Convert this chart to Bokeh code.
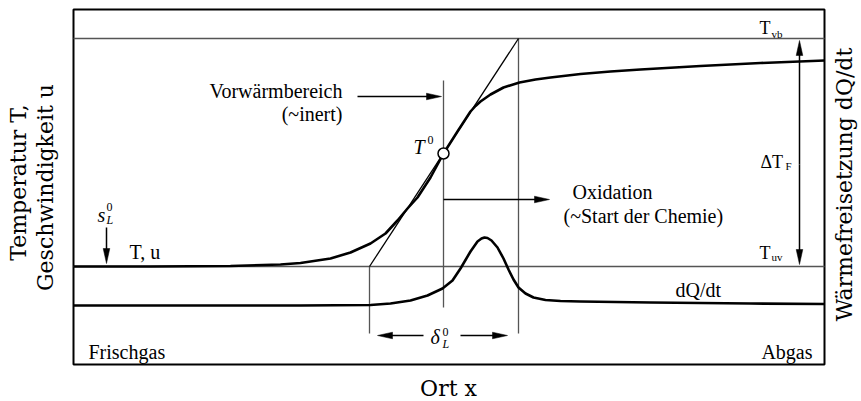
import math
from bokeh.plotting import figure
from bokeh.models import Range1d
from bokeh.core.properties import value
from bokeh.embed import file_html
from bokeh.resources import INLINE

# ---------------- data (schematic units) ----------------
# Temperature / velocity profile T(x)
x_T = [0, 77, 157, 207, 227, 257, 277, 297, 312, 324, 334, 344, 357, 370,
       384, 397, 402, 407, 417, 430, 446, 462, 477, 507, 537, 567, 627, 687, 751]
T_vals = [98, 98, 98.5, 100, 101.5, 106, 112, 121, 131, 144, 156, 167, 187, 211,
          233, 253, 258.5, 263, 270, 277, 282, 285, 287, 290.5, 293, 295, 298.5, 301.5, 304]

# Heat release rate dQ/dt(x)
x_Q = [0, 227, 297, 317, 337, 354, 369, 379, 387, 397, 404, 408, 411, 414, 418, 424,
       430, 435, 440, 445, 452, 460, 472, 487, 507, 577, 677, 751]
Q_vals = [59, 59, 59.5, 61, 64, 69, 76, 84, 96, 113, 123, 126, 127, 126.5, 124, 117,
          106, 95, 85, 77, 71, 67, 64.5, 63.5, 63, 62, 61, 60.5]

T_uv = 98          # unburnt temperature level
T_vb = 326         # adiabatic flame temperature level
x_tangent = [296, 445]   # tangent through T0 from T_uv to T_vb
x_T0, T0 = 370, 211      # inflection point
x_flame_end = 445        # end of the flame zone

X_MAX, Y_MAX = 751, 355

# ---------------- figure ----------------
p = figure(width=861, height=401, output_backend="svg", toolbar_location=None,
           x_range=Range1d(-73, 788), y_range=Range1d(-37, 364),
           x_axis_location=None, y_axis_location=None, min_border=0)
p.grid.visible = False
p.outline_line_color = None
p.background_fill_color = "white"
p.border_fill_color = "white"

GRAY = "#555555"

# diagram box
p.quad(left=[0], right=[X_MAX], bottom=[0], top=[Y_MAX], fill_color=None,
       line_color="black", line_width=2)

# reference levels
p.segment(x0=[0, 0], y0=[T_uv, T_vb], x1=[X_MAX, X_MAX], y1=[T_uv, T_vb],
          line_color=GRAY, line_width=1.3)

# vertical marker lines
p.segment(x0=[x_tangent[0], x_T0, x_flame_end], y0=[T_uv, 284, T_vb],
          x1=[x_tangent[0], x_T0, x_flame_end], y1=[31, 57, 31],
          line_color=GRAY, line_width=1.3)

# tangent
p.line(x_tangent, [T_uv, T_vb], line_color="black", line_width=1.3)

# curves
p.line(x_T, T_vals, line_color="black", line_width=2.6, line_join="round")
p.line(x_Q, Q_vals, line_color="black", line_width=2.6, line_join="round")

# T0 point
p.scatter([x_T0], [T0], size=11, marker="circle", fill_color="white",
          line_color="black", line_width=1.5)


# arrows
def arrow(x0, y0, x1, y1, L=15, W=3.3):
    dx, dy = x1 - x0, y1 - y0
    n = math.hypot(dx, dy)
    ux, uy = dx / n, dy / n
    bx, by = x1 - ux * L, y1 - uy * L
    px, py = -uy * W, ux * W
    p.segment(x0=[x0], y0=[y0], x1=[bx + ux * 2], y1=[by + uy * 2], line_color="black", line_width=1.5)
    p.patch([x1, bx + px, bx - px], [y1, by + py, by - py], fill_color="black",
            line_color="black", line_width=0.5)


arrow(284, 268, 368, 268)          # Vorwärmbereich
arrow(x_T0, 165, 476, 165)         # Oxidation
arrow(350, 29, 304, 29)            # delta left
arrow(387, 29, 434, 29)            # delta right
arrow(33, 137, 33, 101)            # s_L^0
arrow(726, 200, 726, 324)          # Delta T_F up
arrow(726, 200, 726, 100)          # Delta T_F down

SERIF = "Liberation Serif"
AXF = "DejaVu Serif"


def lab(x, y, text, size=20, font=SERIF, style="normal", align="left", angle=0.0):
    s = 0.3 * size   # baseline correction of the renderer
    x = x - s * math.sin(angle)
    y = y + s * math.cos(angle)
    p.text(x=[x], y=[y], text=[text], text_font=value(font), text_font_size=value(f"{size}px"),
           text_font_style=value(style), text_align=value(align), text_baseline=value("alphabetic"),
           angle=angle, text_color="black")


lab(269, 268, "Vorwärmbereich", align="right")
lab(269, 245, "(~inert)", align="right")
lab(340, 212, "T", style="italic")
lab(354, 221, "0", size=12)
lab(499, 167, "Oxidation")
lab(490, 143, "(~Start der Chemie)")
lab(686, 331, "T", size=18)
lab(698, 327, "vb", size=11)
lab(686, 106, "T", size=18)
lab(698, 104, "uv", size=11)
lab(687, 197, "ΔT", size=18)
lab(712, 195, "F", size=11)
lab(602, 69, "dQ/dt")
lab(15, 7, "Frischgas")
lab(739, 7, "Abgas", align="right")
lab(56, 107, "T, u")
lab(24, 144, "s", style="italic")
lab(33, 154, "0", size=12)
lab(33, 141, "L", size=12, style="italic")
lab(357, 22, "δ", style="italic")
lab(369, 29, "0", size=12)
lab(369, 17, "L", size=12, style="italic")

# axis titles
lab(375, -31, "Ort x", size=22, font=AXF, align="center")
lab(-48, 182, "Temperatur T,", size=22, font=AXF, align="center", angle=math.pi / 2)
lab(-21, 177, "Geschwindigkeit u", size=22, font=AXF, align="center", angle=math.pi / 2)
lab(778, 180, "Wärmefreisetzung dQ/dt", size=22, font=AXF, align="center", angle=math.pi / 2)

open("out.html", "w").write(file_html(p, INLINE))
